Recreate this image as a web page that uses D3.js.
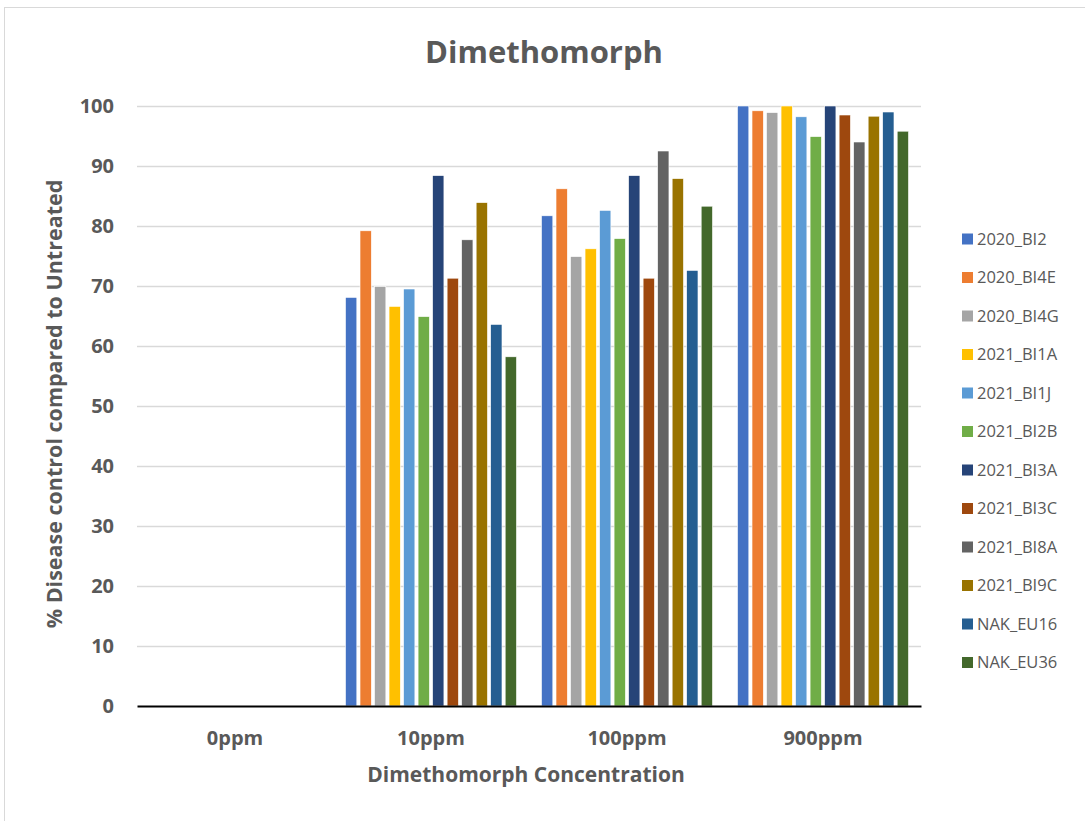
<!DOCTYPE html>
<html>
<head>
<meta charset="utf-8">
<script src="https://cdn.jsdelivr.net/npm/d3@7"></script>
<style>
  html, body { margin: 0; padding: 0; background: #fff; }
  svg { display: block; font-family: 'Open Sans', sans-serif; }
</style>
</head>
<body>
<svg id="chart"></svg>
<script>
// data
const categories = ['0ppm', '10ppm', '100ppm', '900ppm']
const seriesNames = ['2020_BI2', '2020_BI4E', '2020_BI4G', '2021_BI1A', '2021_BI1J', '2021_BI2B',
  '2021_BI3A', '2021_BI3C', '2021_BI8A', '2021_BI9C', 'NAK_EU16', 'NAK_EU36']
const seriesColors = ['#4472C4', '#ED7D31', '#A5A5A5', '#FFC000', '#5B9BD5', '#70AD47',
  '#264478', '#9E480E', '#636363', '#997300', '#255E91', '#43682B']
const v0ppm = [0, 0, 0, 0, 0, 0, 0, 0, 0, 0, 0, 0]
const v10ppm = [68.1, 79.2, 69.9, 66.6, 69.5, 64.9, 88.4, 71.3, 77.7, 83.9, 63.6, 58.2]
const v100ppm = [81.7, 86.2, 74.9, 76.2, 82.6, 77.9, 88.4, 71.3, 92.5, 87.9, 72.6, 83.3]
const v900ppm = [100, 99.2, 98.9, 100, 98.2, 94.9, 100, 98.5, 94.0, 98.3, 99.0, 95.8]
const yTicks = [0, 10, 20, 30, 40, 50, 60, 70, 80, 90, 100]

const byCategory = [v0ppm, v10ppm, v100ppm, v900ppm]
const W = 1085, H = 821
const textColor = '#595959'

const svg = d3.select('#chart').attr('width', W).attr('height', H)

// chart border (runs off the right/bottom edge like the screenshot)
svg.append('rect').attr('x', 4.5).attr('y', 7.5).attr('width', 1100).attr('height', 830)
  .attr('fill', '#fff').attr('stroke', '#d9d9d9').attr('stroke-width', 1)

const plot = { left: 137, right: 921, top: 106, bottom: 706 }

const x0 = d3.scaleBand().domain(categories).range([plot.left, plot.right])
const x1 = d3.scaleBand().domain(seriesNames).range([12.5, x0.bandwidth() - 12.5]).paddingInner(0.22)
const y = d3.scaleLinear().domain([0, 100]).range([plot.bottom, plot.top])

// gridlines
svg.append('g').selectAll('line').data(yTicks.filter(d => d > 0)).join('line')
  .attr('x1', plot.left).attr('x2', plot.right)
  .attr('y1', d => y(d) + 0.5).attr('y2', d => y(d) + 0.5)
  .attr('stroke', '#d9d9d9').attr('stroke-width', 1.3)

// y axis labels
const yAxis = svg.append('g').attr('transform', 'translate(' + (plot.left - 23) + ',0)')
  .call(d3.axisLeft(y).tickValues(yTicks).tickSize(0).tickPadding(0))
yAxis.select('.domain').remove()
yAxis.selectAll('text').attr('fill', textColor).attr('font-size', 20).attr('font-weight', 'bold')
  .attr('font-family', "'Open Sans', sans-serif")

// bars
const groups = svg.append('g').selectAll('g').data(categories).join('g')
  .attr('transform', d => 'translate(' + x0(d) + ',0)')
groups.selectAll('rect')
  .data((c, ci) => seriesNames.map((s, si) => ({ s, v: byCategory[ci][si], color: seriesColors[si] })))
  .join('rect')
  .attr('x', d => x1(d.s))
  .attr('width', x1.bandwidth())
  .attr('y', d => y(d.v))
  .attr('height', d => y(0) - y(d.v))
  .attr('fill', d => d.color)
  .attr('stroke', '#fff').attr('stroke-width', 0.6)

// x axis
const xAxis = svg.append('g').attr('transform', 'translate(0,' + plot.bottom + ')')
  .call(d3.axisBottom(x0).tickSize(0).tickPadding(0))
xAxis.select('.domain').attr('stroke', '#000').attr('stroke-width', 2)
xAxis.selectAll('text').attr('fill', textColor).attr('font-size', 20).attr('font-weight', 'bold')
  .attr('font-family', "'Open Sans', sans-serif").attr('dy', 0).attr('y', 39)

// titles
svg.append('text').attr('x', 544).attr('y', 63).attr('text-anchor', 'middle')
  .attr('fill', textColor).attr('font-size', 31).attr('font-weight', 'bold').text('Dimethomorph')

svg.append('text').attr('x', 526).attr('y', 782).attr('text-anchor', 'middle')
  .attr('fill', textColor).attr('font-size', 21).attr('font-weight', 'bold').text('Dimethomorph Concentration')

svg.append('text').attr('transform', 'translate(62,404) rotate(-90)').attr('text-anchor', 'middle')
  .attr('fill', textColor).attr('font-size', 21.5).attr('font-weight', 'bold')
  .text('% Disease control compared to Untreated')

// legend
const legend = svg.append('g').selectAll('g').data(seriesNames).join('g')
  .attr('transform', (d, i) => 'translate(962,' + (239 + i * 38.5) + ')')
legend.append('rect').attr('x', 0).attr('y', -5.5).attr('width', 11).attr('height', 11)
  .attr('fill', (d, i) => seriesColors[i])
legend.append('text').attr('x', 15).attr('y', 0).attr('dy', '0.35em')
  .attr('fill', textColor).attr('font-size', 16.5).text(d => d)
</script>
</body>
</html>
